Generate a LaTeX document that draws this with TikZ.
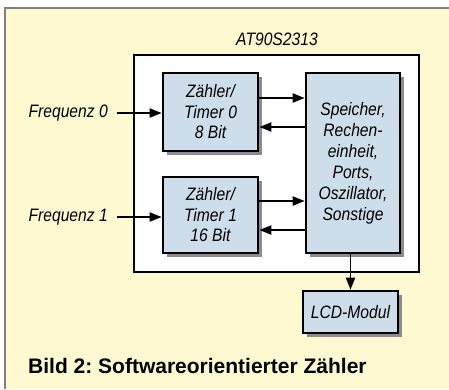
\documentclass[tikz,border=0pt]{standalone}
\usepackage{fontspec}
\setmainfont{Liberation Sans}
\newfontfamily\condfont{Liberation Sans}[FakeStretch=0.87]
\usetikzlibrary{arrows.meta,shadows}
\definecolor{cream}{RGB}{255,249,210}
\definecolor{boxblue}{RGB}{205,222,234}
\definecolor{shadowgray}{RGB}{140,140,140}
\frenchspacing
\tikzset{
  lbl/.style={font=\condfont\itshape\fontsize{18}{22}\selectfont, inner sep=0pt},
  blk/.style={draw=black, line width=2.6pt, fill=boxblue, align=center,
    font=\condfont\itshape\fontsize{18}{20.5}\selectfont, inner sep=0pt,
    drop shadow={shadow xshift=3.5pt, shadow yshift=-3.5pt, opacity=1, fill=shadowgray}},
  arr/.style={line width=1.9pt, -{Triangle[length=12pt,width=9pt]}}
}
\begin{document}
\begin{tikzpicture}[x=1pt,y=-1pt]
\useasboundingbox (0,0) rectangle (449,389);
\fill[cream] (5,8) rectangle (449,389);
\draw[gray, line width=1.2pt] (5,389) -- (5,8) -- (449,8);
\node[lbl] (title) at (277,39) {AT90S2313};
\node[draw=black, fill=white, line width=2.6pt, minimum width=285pt, minimum height=217pt, inner sep=0pt] (chip) at (276.5,163.5) {};
\node[blk, minimum width=95pt, minimum height=78pt] (z0) at (210.5,112) {Zähler/\\Timer 0\\8 Bit};
\node[blk, minimum width=95pt, minimum height=76pt] (z1) at (210.5,215) {Zähler/\\Timer 1\\16 Bit};
\node[blk, minimum width=94pt, minimum height=180pt, font=\condfont\itshape\fontsize{18}{21}\selectfont] (sp) at (353,163) {Speicher,\\Rechen-\\einheit,\\Ports,\\Oszillator,\\Sonstige};
\node[blk, minimum width=95pt, minimum height=42pt] (lcd) at (350.5,312) {LCD-Modul};
\node[lbl, anchor=east] (f0) at (108,113) {Frequenz 0};
\node[lbl, anchor=east] (f1) at (108,217) {Frequenz 1};
\coordinate (a0) at ([xshift=9pt]f0.east);
\coordinate (a1) at ([xshift=9pt]f1.east);
\draw[arr] (a0) -- (a0 -| z0.west);
\draw[arr] (a1) -- (a1 -| z1.west);
\draw[arr] ([yshift=14pt]z0.east) -- ([yshift=14pt]z0.east -| sp.west);
\draw[arr] ([yshift=-15pt]z0.east -| sp.west) -- ([yshift=-15pt]z0.east);
\draw[arr] ([yshift=14pt]z1.east) -- ([yshift=14pt]z1.east -| sp.west);
\draw[arr] ([yshift=-15pt]z1.east -| sp.west) -- ([yshift=-15pt]z1.east);
\draw[arr] (lcd.north |- sp.south) -- (lcd.north);
\node[anchor=base west, inner sep=0pt, font=\bfseries\fontsize{21}{24}\selectfont] (cap) at (28,373) {Bild 2: Softwareorientierter Zähler};
\end{tikzpicture}
\end{document}
